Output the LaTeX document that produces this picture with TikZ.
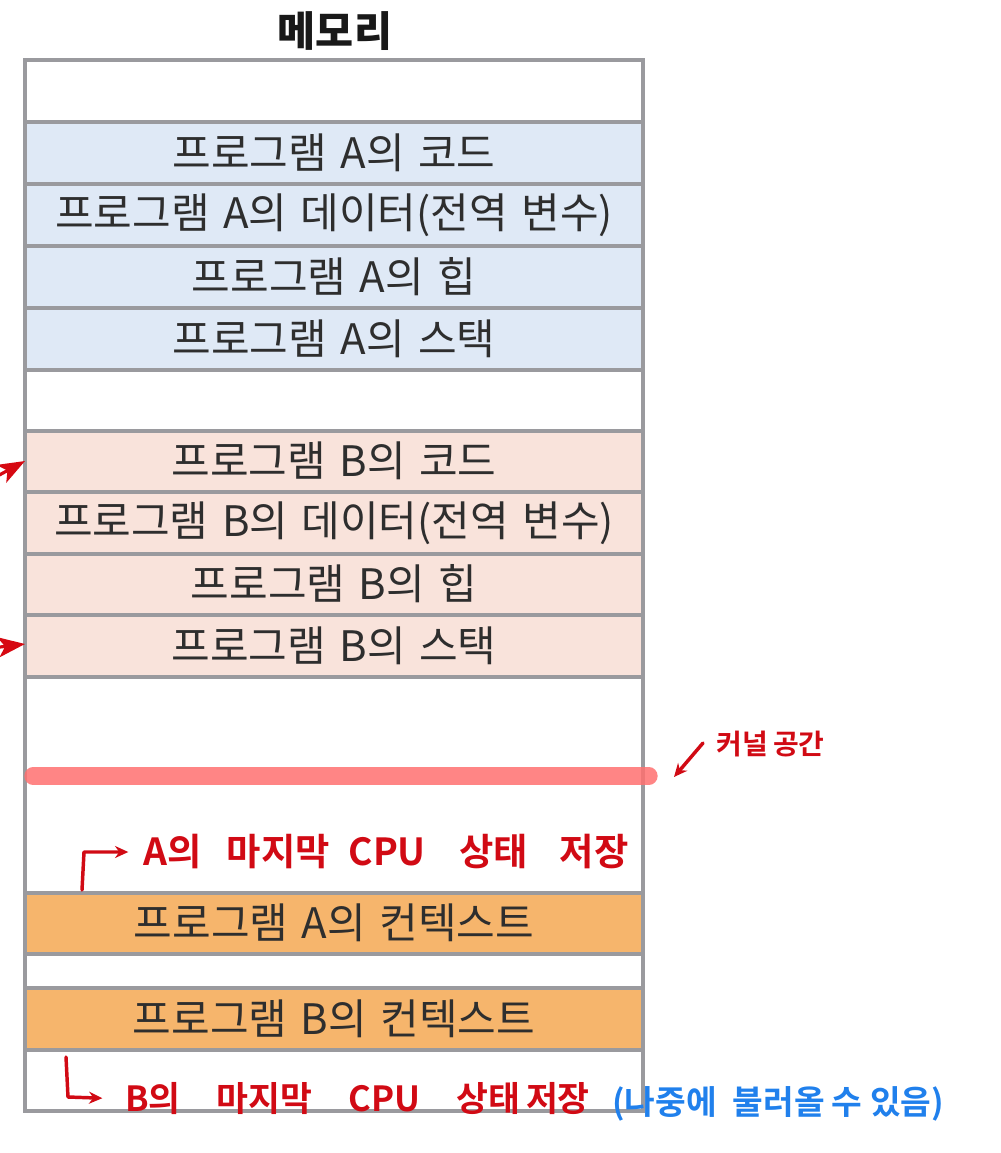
\documentclass[tikz,border=0pt]{standalone}
\usepackage{fontspec}
\setmainfont{Noto Sans CJK KR}
\newfontfamily\handfont{Noto Sans CJK KR Bold}
\usetikzlibrary{arrows.meta}
\definecolor{gridgray}{HTML}{9A9A9E}
\definecolor{blueF}{HTML}{DFE9F6}
\definecolor{pinkF}{HTML}{F9E3DB}
\definecolor{orangeF}{HTML}{F6B56C}
\definecolor{hred}{HTML}{D10A14}
\definecolor{hblue}{HTML}{2080EC}
\definecolor{salmonL}{HTML}{FF7070}
\tikzset{
  rowtext/.style={font=\fontsize{31.5}{34}\selectfont, text=black!82, inner sep=0pt},
  sep/.style={draw=gridgray, line width=2.6pt},
  hand/.style={font=\handfont\fontsize{28}{32}\selectfont, text=hred, inner sep=0pt, anchor=west},
  handarrow/.style={draw=hred, line width=2.6pt, line cap=round, line join=round, -{Stealth[length=10pt,width=9pt]}},
  sidearrow/.style={draw=hred!90!red, line width=2.4pt, -{Stealth[length=20pt,width=15pt,inset=5pt]}}
}
\begin{document}
\begin{tikzpicture}[x=0.75pt,y=-0.75pt]
\useasboundingbox (0,0) rectangle (1000,1153);
% fills
\fill[blueF] (25,122) rectangle (643,370);
\fill[pinkF] (25,431) rectangle (643,677);
\fill[orangeF] (25,893) rectangle (643,954);
\fill[orangeF] (25,988) rectangle (643,1050);
% separators
\foreach \yy in {122,184,246,308,370,431,492,554,615,677,893,954,988,1050}
  \draw[sep] (25,\yy) -- (643,\yy);
\draw[sep] (25,60) rectangle (643,1111);
% title
\node[font=\bfseries\fontsize{31}{34}\selectfont, text=black!90] (title) at (335,31) {메모리};
% row texts
\node[rowtext] (acode) at (334,153) {프로그램\hspace{3pt} A의\hspace{3pt} 코드};
\node[rowtext] (adata) at (334,215) {프로그램\hspace{3pt} A의\hspace{3pt} 데이터(전역\hspace{3pt} 변수)};
\node[rowtext] (aheap) at (334,277) {프로그램\hspace{3pt} A의\hspace{3pt} 힙};
\node[rowtext] (astack) at (334,339) {프로그램\hspace{3pt} A의\hspace{3pt} 스택};
\node[rowtext] (bcode) at (334,461) {프로그램\hspace{3pt} B의\hspace{3pt} 코드};
\node[rowtext] (bdata) at (334,523) {프로그램\hspace{3pt} B의\hspace{3pt} 데이터(전역\hspace{3pt} 변수)};
\node[rowtext] (bheap) at (334,584) {프로그램\hspace{3pt} B의\hspace{3pt} 힙};
\node[rowtext] (bstack) at (334,646) {프로그램\hspace{3pt} B의\hspace{3pt} 스택};
\node[rowtext] (actx) at (334,923) {프로그램\hspace{3pt} A의\hspace{3pt} 컨텍스트};
\node[rowtext] (bctx) at (334,1019) {프로그램\hspace{3pt} B의\hspace{3pt} 컨텍스트};
% side arrows
\coordinate (s1a) at (-8,479);
\coordinate (s1b) at (25,461);
\coordinate (s2a) at (-8,648);
\coordinate (s2b) at (25,644);
\draw[sidearrow] (s1a) -- (s1b);
\draw[sidearrow] (s2a) -- (s2b);
% kernel line
\coordinate (k1) at (33,776);
\coordinate (k2) at (649,776);
\draw[salmonL, opacity=0.85, line width=13pt, line cap=round] (k1) -- (k2);
\node[hand, font=\handfont\fontsize{21}{24}\selectfont] (kernel) at (716,744) {커널\hspace{4pt}공간};
\coordinate (ka) at (703,743);
\coordinate (kb) at (674,777);
\draw[handarrow] (ka) -- (kb);
% A state
\node[hand] (astate) at (143,852) {A의\hspace{19pt}마지막\hspace{14pt}CPU\hspace{25pt}상태\hspace{24pt}저장};
\coordinate (aa) at (82,890);
\coordinate (ab) at (84,852);
\draw[handarrow, shorten >=11pt] (aa) -- (ab) -- (astate.west);
% B state
\node[hand, font=\handfont\fontsize{26}{30}\selectfont] (bstate) at (125,1099) {B의\hspace{27pt}마지막\hspace{27pt}CPU\hspace{27pt}상태\hspace{4.5pt}저장};
\node[hand, text=hblue, font=\handfont\fontsize{25}{28}\selectfont] (later) at (612,1104) {(나중에\hspace{12pt}불러올\hspace{5pt}수\hspace{6pt}있음)};
\coordinate (ba) at (66,1057);
\coordinate (bb) at (68,1097);
\draw[handarrow, shorten >=17pt] (ba) -- (bb) -- (bstate.west);
\end{tikzpicture}
\end{document}
